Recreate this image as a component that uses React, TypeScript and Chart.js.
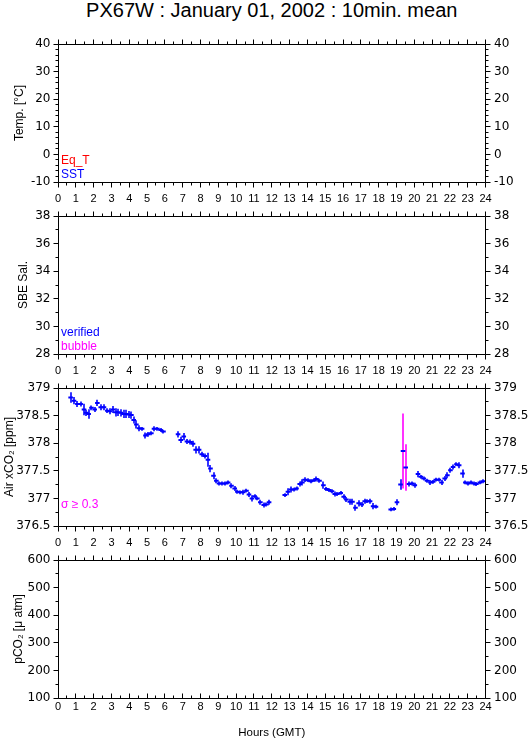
import React, { useEffect, useRef } from "react";
import { Chart, registerables } from "chart.js";

Chart.register(...registerables);

// ---------------- data ----------------
const TITLE = "PX67W : January 01, 2002 : 10min. mean";
const X_LABEL = "Hours (GMT)";
const HOUR_MIN = 0;
const HOUR_MAX = 24;

const tempTicks = [-10, 0, 10, 20, 30, 40];
const salTicks = [28, 30, 32, 34, 36, 38];
const xco2Ticks = [376.5, 377, 377.5, 378, 378.5, 379];
const pco2Ticks = [100, 200, 300, 400, 500, 600];

const tempSeries = ["Eq_T", "SST"];
const salSeries = ["verified", "bubble"];
const pco2Series = ["pCO₂"];

const SIGMA_LIMIT = 0.3;

// 10-minute means of atmospheric xCO2 (hour of day, ppm, standard deviation)
const hours = [
  0.71, 0.9, 1.09, 1.27, 1.46, 1.59, 1.72, 1.88, 2.06, 2.21, 2.4, 2.58, 2.77, 2.9, 3.09, 3.23, 3.38,
  3.53, 3.68, 3.83, 3.97, 4.12, 4.25, 4.4, 4.55, 4.72, 4.91, 5.05, 5.24, 5.39, 5.58, 5.76, 5.92,
  6.74, 6.89, 7.06, 7.24, 7.43, 7.58, 7.73, 7.92, 8.07, 8.24, 8.42, 8.56, 8.73, 8.89, 9.04, 9.23,
  9.4, 9.55, 9.74, 9.92, 10.07, 10.24, 10.39, 10.58, 10.72, 10.89, 11.04, 11.19, 11.36, 11.55, 11.7, 11.85,
  12.73, 12.91, 13.07, 13.23, 13.39, 13.57, 13.72, 13.85, 14.04, 14.19, 14.36, 14.51, 14.68, 14.9, 15.07,
  15.22, 15.38, 15.54, 15.69, 15.87, 16.04, 16.19, 16.38, 16.53, 16.7, 16.88, 17.05, 17.22, 17.37, 17.52,
  17.69, 17.85,
  18.68, 18.85, 19.03, 19.23, 19.37, 19.52, 19.71, 19.88, 20.03, 20.21, 20.37, 20.53, 20.72, 20.91, 21.06,
  21.21, 21.38, 21.53, 21.71, 21.86, 22.03, 22.18, 22.37, 22.52, 22.71, 22.87, 23.02, 23.17, 23.34, 23.49,
  23.68, 23.86,
];
const xco2 = [
  378.83, 378.77, 378.71, 378.71, 378.61, 378.55, 378.53, 378.64, 378.61, 378.73, 378.65, 378.65, 378.59,
  378.58, 378.61, 378.56, 378.56, 378.55, 378.53, 378.53, 378.52, 378.51, 378.42, 378.34, 378.27, 378.26,
  378.14, 378.16, 378.18, 378.26, 378.26, 378.24, 378.21,
  378.16, 378.06, 378.12, 378.03, 378.02, 377.99, 377.88, 377.88, 377.8, 377.77, 377.7, 377.54, 377.41,
  377.32, 377.27, 377.27, 377.27, 377.29, 377.23, 377.18, 377.12, 377.11, 377.11, 377.14, 377.07, 377.0,
  377.04, 377.0, 376.93, 376.88, 376.89, 376.93,
  377.06, 377.12, 377.16, 377.16, 377.18, 377.26, 377.29, 377.34, 377.33, 377.31, 377.33, 377.35, 377.32,
  377.24, 377.17, 377.15, 377.13, 377.08, 377.08, 377.1, 377.03, 376.98, 376.94, 376.94, 376.83, 376.91,
  376.89, 376.95, 376.95, 376.95, 376.86, 376.85,
  376.8, 376.81, 376.93, 377.25, 377.86, 377.56, 377.26, 377.27, 377.24, 377.44, 377.39, 377.36, 377.32,
  377.29, 377.3, 377.34, 377.34, 377.29, 377.36, 377.42, 377.51, 377.57, 377.62, 377.6, 377.45, 377.29,
  377.27, 377.29, 377.27, 377.26, 377.29, 377.31,
];
const sigma = [
  0.095, 0.065, 0.055, 0.045, 0.105, 0.055, 0.085, 0.045, 0.045, 0.055, 0.055, 0.055, 0.045, 0.055, 0.065,
  0.075, 0.065, 0.065, 0.075, 0.075, 0.065, 0.065, 0.065, 0.075, 0.055, 0.035, 0.055, 0.045, 0.035, 0.045,
  0.035, 0.035, 0.035,
  0.055, 0.055, 0.065, 0.045, 0.045, 0.055, 0.065, 0.065, 0.045, 0.045, 0.125, 0.065, 0.065, 0.045, 0.035,
  0.035, 0.035, 0.035, 0.045, 0.045, 0.035, 0.035, 0.045, 0.035, 0.045, 0.055, 0.035, 0.035, 0.045, 0.045,
  0.035, 0.045,
  0.035, 0.065, 0.055, 0.035, 0.035, 0.045, 0.055, 0.045, 0.035, 0.035, 0.035, 0.045, 0.035, 0.065, 0.035,
  0.035, 0.035, 0.045, 0.035, 0.035, 0.045, 0.045, 0.055, 0.055, 0.055, 0.055, 0.045, 0.045, 0.035, 0.045,
  0.055, 0.035,
  0.035, 0.035, 0.055, 0.095, 0.68, 0.42, 0.045, 0.035, 0.045, 0.055, 0.035, 0.035, 0.035, 0.045, 0.035,
  0.035, 0.035, 0.045, 0.045, 0.055, 0.045, 0.045, 0.035, 0.055, 0.075, 0.035, 0.035, 0.035, 0.035, 0.035,
  0.035, 0.035,
];

// ---------------- styles ----------------
const BLUE = "#0000ff";
const RED = "#ff0000";
const MAGENTA = "#ff00ff";
const SANS = "'Liberation Sans', Arial, sans-serif";
const WIDE = "'DejaVu Sans', sans-serif";

const PAGE_W = 529;
const PAGE_H = 739;
const PLOT_LEFT = 58;
const PLOT_RIGHT = 485.5;
const PLOT_H = 138;
const CANVAS_PAD_TOP = 20;
const CANVAS_H = 192;

type LegendItem = { text: string; color: string };
type Panel = {
  top: number;
  yTitle: string;
  ticks: number[];
  minor: number;
  titleX: number;
  series: string[];
  legend: LegendItem[];
  hasData: boolean;
  last: boolean;
};

const panels: Panel[] = [
  {
    top: 44,
    yTitle: "Temp. [°C]",
    ticks: tempTicks,
    minor: 2,
    titleX: 20,
    series: tempSeries,
    legend: [
      { text: tempSeries[0], color: RED },
      { text: tempSeries[1], color: BLUE },
    ],
    hasData: false,
    last: false,
  },
  {
    top: 216,
    yTitle: "SBE Sal.",
    ticks: salTicks,
    minor: 1,
    titleX: 23.5,
    series: salSeries,
    legend: [
      { text: salSeries[0], color: BLUE },
      { text: salSeries[1], color: MAGENTA },
    ],
    hasData: false,
    last: false,
  },
  {
    top: 388,
    yTitle: "Air xCO₂ [ppm]",
    ticks: xco2Ticks,
    minor: 0.25,
    titleX: 9.5,
    series: [],
    legend: [{ text: `σ ≥ ${SIGMA_LIMIT}`, color: MAGENTA }],
    hasData: true,
    last: false,
  },
  {
    top: 560,
    yTitle: "pCO₂ [μ atm]",
    ticks: pco2Ticks,
    minor: 50,
    titleX: 18.5,
    series: pco2Series,
    legend: [],
    hasData: false,
    last: true,
  },
];

const near = (a: number, b: number) => Math.abs(a - b) < 1e-6;

const framePlugin = {
  id: "frame",
  afterDraw(chart: any, _args: any, opts: any) {
    const { ctx, chartArea: a, scales } = chart;
    const xs = scales.x;
    const ys = scales.y;
    const L = Math.floor(a.left) + 0.5;
    const R = Math.floor(a.right) + 0.5;
    const T = Math.floor(a.top) + 0.5;
    const B = Math.floor(a.bottom) + 0.5;
    ctx.save();
    ctx.strokeStyle = "#000";
    ctx.lineWidth = 1;
    ctx.beginPath();
    ctx.rect(L, T, R - L, B - T);
    ctx.stroke();

    // x ticks (major every hour, minor every half hour)
    ctx.beginPath();
    for (let v = HOUR_MIN; v <= HOUR_MAX + 1e-9; v += 0.5) {
      const px = Math.floor(xs.getPixelForValue(v)) + 0.5;
      const len = near(v, Math.round(v)) ? 5 : 3;
      ctx.moveTo(px, T);
      ctx.lineTo(px, T - len);
      ctx.moveTo(px, B);
      ctx.lineTo(px, opts.bottomInward ? B - len : B + len);
    }
    // y ticks
    const step = opts.major;
    for (let v = ys.min; v <= ys.max + 1e-9; v += opts.minor) {
      const py = Math.floor(ys.getPixelForValue(v)) + 0.5;
      const isMajor = near((v - ys.min) / step, Math.round((v - ys.min) / step));
      const len = isMajor ? 5 : 3;
      ctx.moveTo(L, py);
      ctx.lineTo(L - len, py);
      ctx.moveTo(R, py);
      ctx.lineTo(R + len, py);
    }
    ctx.stroke();

    // in-plot legend texts
    ctx.font = `12px ${SANS}`;
    ctx.textAlign = "left";
    ctx.textBaseline = "middle";
    (opts.legend || []).forEach((l: LegendItem, k: number) => {
      ctx.fillStyle = l.color;
      ctx.fillText(l.text, a.left + 3, a.top + 116.5 + k * 14);
    });
    ctx.restore();
  },
};

const errorBarPlugin = {
  id: "errbars",
  beforeDatasetsDraw(chart: any) {
    const { ctx, scales } = chart;
    const xs = scales.x;
    const ys = scales.y;
    ctx.save();
    ctx.lineWidth = 1.6;
    hours.forEach((h, i) => {
      const px = Math.round(xs.getPixelForValue(h));
      const y1 = ys.getPixelForValue(xco2[i] - sigma[i]);
      const y2 = ys.getPixelForValue(xco2[i] + sigma[i]);
      ctx.strokeStyle = sigma[i] >= SIGMA_LIMIT ? MAGENTA : BLUE;
      ctx.beginPath();
      ctx.moveTo(px, y1);
      ctx.lineTo(px, y2);
      ctx.stroke();
    });
    ctx.restore();
  },
};

const fmt = (v: number | string) => String(Math.round(Number(v) * 100) / 100);

function buildChart(canvas: HTMLCanvasElement, p: Panel) {
  const min = p.ticks[0];
  const max = p.ticks[p.ticks.length - 1];
  const major = p.ticks[1] - p.ticks[0];
  const xAxisH = CANVAS_H - CANVAS_PAD_TOP - PLOT_H;
  const titleFont = { family: SANS, size: 12 };

  const datasets: any[] = p.hasData
    ? [
        {
          label: "Air xCO₂",
          data: hours.map((h, i) => ({ x: h, y: xco2[i] })),
          showLine: false,
          pointStyle: "line",
          pointRadius: 2.3,
          pointBorderWidth: 2,
          pointBorderColor: BLUE,
          pointBackgroundColor: BLUE,
          borderColor: BLUE,
        },
      ]
    : p.series.map((s) => ({ label: s, data: [], showLine: false, xAxisID: "x", yAxisID: "y" }));

  const plugins: any[] = [framePlugin];
  if (p.hasData) plugins.push(errorBarPlugin);

  // the bottom panel has its hour labels closer to the axis (inward ticks)
  const xTickOpts = p.last ? { mirror: true, padding: -15.4 } : { padding: 9.9 };

  return new Chart(canvas, {
    type: "scatter",
    data: { datasets },
    plugins,
    options: {
      responsive: false,
      animation: false,
      events: [],
      layout: { padding: { top: CANVAS_PAD_TOP, left: 0, right: 0, bottom: 0 } },
      plugins: {
        legend: { display: false },
        tooltip: { enabled: false },
        frame: { minor: p.minor, major, legend: p.legend, bottomInward: p.last },
      } as any,
      scales: {
        x: {
          type: "linear",
          position: "bottom",
          display: true,
          min: HOUR_MIN,
          max: HOUR_MAX,
          afterFit: (s: any) => {
            s.height = xAxisH;
          },
          grid: { display: false, drawTicks: false },
          border: { display: false },
          ticks: {
            display: true,
            stepSize: 1,
            autoSkip: false,
            maxRotation: 0,
            minRotation: 0,
            ...xTickOpts,
            color: "#000",
            font: { family: SANS, size: 11 },
            callback: fmt,
          },
        },
        y: {
          type: "linear",
          position: "left",
          min,
          max,
          afterFit: (s: any) => {
            s.width = PLOT_LEFT;
          },
          grid: { display: false, drawTicks: false },
          border: { display: false },
          ticks: {
            stepSize: major,
            padding: 7.5,
            color: "#000",
            font: { family: WIDE, size: 12 },
            callback: fmt,
          },
          title: {
            display: true,
            text: p.yTitle,
            color: "#000",
            font: titleFont,
            padding: { top: p.titleX - 7.2, bottom: 0 },
          },
        },
        yR: {
          type: "linear",
          position: "right",
          min,
          max,
          afterFit: (s: any) => {
            s.width = PAGE_W - PLOT_RIGHT;
          },
          grid: { display: false, drawTicks: false },
          border: { display: false },
          ticks: {
            stepSize: major,
            padding: 8.5,
            color: "#000",
            font: { family: WIDE, size: 12 },
            callback: fmt,
          },
        },
      },
    } as any,
  });
}

function PanelCanvas({ p }: { p: Panel }) {
  const ref = useRef<HTMLCanvasElement | null>(null);
  useEffect(() => {
    if (!ref.current) return;
    const chart = buildChart(ref.current, p);
    return () => chart.destroy();
  }, [p]);
  return (
    <canvas
      ref={ref}
      width={PAGE_W}
      height={CANVAS_H}
      style={{
        position: "absolute",
        left: 0,
        top: p.top - CANVAS_PAD_TOP,
        width: PAGE_W,
        height: CANVAS_H,
      }}
    />
  );
}

export default function App() {
  return (
    <div
      style={{
        position: "absolute",
        left: 0,
        top: 0,
        width: PAGE_W,
        height: PAGE_H,
        background: "#fff",
        overflow: "hidden",
      }}
    >
      <div
        style={{
          position: "absolute",
          left: PLOT_LEFT,
          width: PLOT_RIGHT - PLOT_LEFT,
          top: 0,
          height: 20,
          lineHeight: "20px",
          fontSize: 20,
          fontFamily: SANS,
          textAlign: "center",
          color: "#000",
          whiteSpace: "nowrap",
        }}
      >
        {TITLE}
      </div>
      {panels.map((p, i) => (
        <PanelCanvas key={i} p={p} />
      ))}
      <div
        style={{
          position: "absolute",
          left: PLOT_LEFT,
          width: PLOT_RIGHT - PLOT_LEFT,
          top: 724,
          height: 16,
          lineHeight: "16px",
          fontSize: 11.5,
          fontFamily: SANS,
          textAlign: "center",
          color: "#000",
          whiteSpace: "nowrap",
        }}
      >
        {X_LABEL}
      </div>
    </div>
  );
}
